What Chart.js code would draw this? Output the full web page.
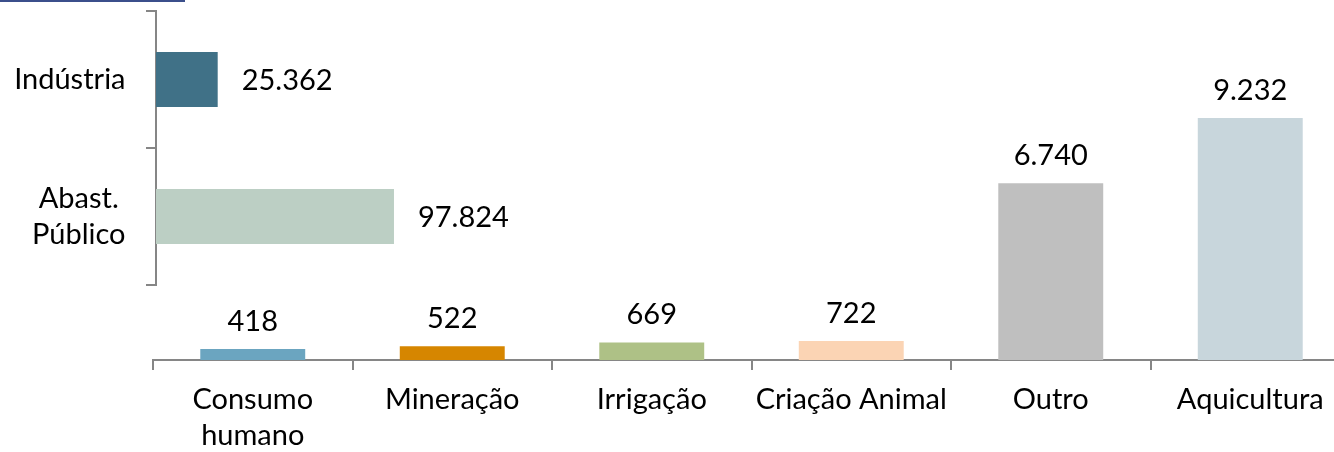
<!DOCTYPE html>
<html lang="pt-BR">
<head>
<meta charset="utf-8">
<title>Usos da água</title>
<script src="https://cdn.jsdelivr.net/npm/chart.js@4.4.1/dist/chart.umd.min.js"></script>
<style>
    html, body { margin: 0; padding: 0; background: #fff; overflow: hidden; }
    #wrap { position: relative; width: 1334px; height: 452px; overflow: hidden; }
    #usos { position: absolute; left: 0; top: 0; }
    #setores { position: absolute; left: 0; top: 0; }
    #linha { position: absolute; left: 0; top: 0; width: 185px; height: 2px; background: #3b4f8b; }
</style>
</head>
<body>
<div id="wrap">
    <canvas id="usos" width="1360" height="452"></canvas>
    <canvas id="setores" width="540" height="300"></canvas>
    <div id="linha"></div>
</div>
<script>
"use strict";

// setores (barras horizontais)
const setorLabels = ['Indústria', ['Abast.', 'Público']];
const setorValues = [25362, 97824];
const setorColors = ['#407187', '#bccfc4'];

// demais usos (barras verticais)
const usoLabels = [['Consumo', 'humano'], 'Mineração', 'Irrigação', 'Criação Animal', 'Outro', 'Aquicultura'];
const usoValues = [418, 522, 669, 722, 6740, 9232];
const usoColors = ['#6ba5c0', '#d68600', '#aec186', '#fbd4b4', '#bfbfbf', '#c8d6dc'];

const FONT = { family: 'Lato', size: 29, lineHeight: 36 / 29 };
const AXIS_COLOR = '#868686';

function fmt(v) {
    return String(v).replace(/\B(?=(\d{3})+(?!\d))/g, '.');
}

Chart.defaults.font.family = 'Lato';
Chart.defaults.color = '#000';

const valueLabels = {
    id: 'valueLabels',
    afterDatasetsDraw(chart, args, opts) {
        const ctx = chart.ctx;
        const meta = chart.getDatasetMeta(0);
        const values = chart.data.datasets[0].data;
        ctx.save();
        ctx.font = FONT.size + 'px ' + FONT.family;
        ctx.fillStyle = '#000';
        meta.data.forEach((bar, i) => {
            if (opts.horizontal) {
                ctx.textAlign = 'left';
                ctx.textBaseline = 'middle';
                ctx.fillText(fmt(values[i]), bar.x + 24, bar.y + 1);
            } else {
                ctx.textAlign = 'center';
                ctx.textBaseline = 'alphabetic';
                ctx.fillText(fmt(values[i]), bar.x, bar.y - 18);
            }
        });
        ctx.restore();
    }
};

// rótulos do eixo y: bloco alinhado à direita, linhas centralizadas
const yLabels = {
    id: 'yLabels',
    afterDraw(chart) {
        const ctx = chart.ctx;
        const scale = chart.scales.y;
        ctx.save();
        ctx.font = FONT.size + 'px ' + FONT.family;
        ctx.fillStyle = '#000';
        ctx.textAlign = 'center';
        ctx.textBaseline = 'middle';
        chart.data.labels.forEach((label, i) => {
            const lines = [].concat(label);
            const y = scale.getPixelForTick(i);
            const w = Math.max(...lines.map(l => ctx.measureText(l).width));
            const cx = scale.right - 30.5 - w / 2;
            lines.forEach((l, j) => {
                ctx.fillText(l, cx, y + (j - (lines.length - 1) / 2) * 36);
            });
        });
        ctx.restore();
    }
};

function draw() {
    const ctx = document.getElementById('usos').getContext('2d');
    new Chart(ctx, {
        type: 'bar',
        data: {
            labels: usoLabels,
            datasets: [{
                data: usoValues,
                backgroundColor: usoColors,
                borderWidth: 0,
                categoryPercentage: 1,
                barPercentage: 0.526
            }]
        },
        options: {
            responsive: false,
            animation: false,
            layout: {
                padding: { left: 153, right: 10, top: 0, bottom: 0 }
            },
            scales: {
                x: {
                    grid: {
                        offset: true,
                        drawOnChartArea: false,
                        drawTicks: true,
                        tickLength: 10,
                        color: AXIS_COLOR,
                        lineWidth: 2
                    },
                    border: { color: AXIS_COLOR, width: 2 },
                    ticks: {
                        font: FONT,
                        color: '#000',
                        padding: 12,
                        autoSkip: false,
                        maxRotation: 0
                    },
                    afterFit: (scale) => { scale.height = 92; }
                },
                y: {
                    display: false,
                    min: 0,
                    max: 13730
                }
            },
            plugins: {
                legend: { display: false },
                tooltip: { enabled: false },
                valueLabels: { horizontal: false }
            }
        },
        plugins: [valueLabels]
    });

    const ctx2 = document.getElementById('setores').getContext('2d');
    new Chart(ctx2, {
        type: 'bar',
        data: {
            labels: setorLabels,
            datasets: [{
                data: setorValues,
                backgroundColor: setorColors,
                borderWidth: 0,
                categoryPercentage: 1,
                barPercentage: 0.4
            }]
        },
        options: {
            indexAxis: 'y',
            responsive: false,
            animation: false,
            layout: {
                padding: { left: 0, right: 116.4, top: 11, bottom: 15 }
            },
            scales: {
                x: {
                    display: false,
                    min: 0,
                    max: 110000
                },
                y: {
                    grid: {
                        offset: true,
                        drawOnChartArea: false,
                        drawTicks: true,
                        tickLength: 10,
                        color: AXIS_COLOR,
                        lineWidth: 2
                    },
                    border: { color: AXIS_COLOR, width: 2 },
                    ticks: { display: false },
                    afterFit: (scale) => { scale.width = 156; }
                }
            },
            plugins: {
                legend: { display: false },
                tooltip: { enabled: false },
                valueLabels: { horizontal: true }
            }
        },
        plugins: [valueLabels, yLabels]
    });
}

document.fonts.load('29px Lato').then(draw, draw);
</script>
</body>
</html>
